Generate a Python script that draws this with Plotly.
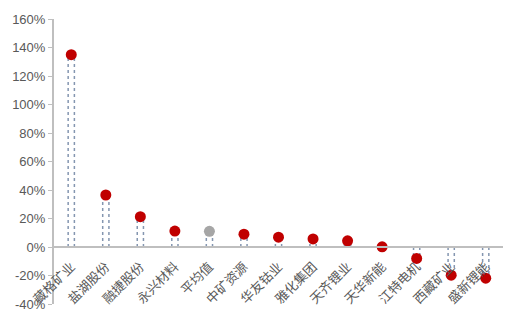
import plotly.graph_objects as go

categories = ["藏格矿业", "盐湖股份", "融捷股份", "永兴材料", "平均值", "中矿资源",
              "华友钴业", "雅化集团", "天齐锂业", "天华新能", "江特电机", "西藏矿业", "盛新锂能"]
values = [135.0, 36.5, 21.3, 11.2, 11.0, 9.0, 6.9, 5.7, 4.3, 0.1, -8.0, -19.8, -21.9]
colors = ["#C00000" if c != "平均值" else "#A6A6A6" for c in categories]
y_ticks = [-40, -20, 0, 20, 40, 60, 80, 100, 120, 140, 160]
y_tick_labels = [f"{t}%" for t in y_ticks]

fig = go.Figure()

# dotted outline "bars": two dotted edges per category
half_w = 0.09
for i, v in enumerate(values):
    for side in (-half_w, half_w):
        fig.add_trace(go.Scatter(
            x=[i + side, i + side], y=[0, v], mode="lines",
            line=dict(color="#8496B0", width=1.5, dash="dot"),
            hoverinfo="skip", showlegend=False))

fig.add_trace(go.Scatter(
    x=list(range(len(categories))), y=values, mode="markers",
    marker=dict(color=colors, size=11, line=dict(width=0)),
    showlegend=False))

fig.update_layout(
    width=515, height=324,
    margin=dict(l=53, r=12, t=16, b=17),
    paper_bgcolor="white", plot_bgcolor="white",
    font=dict(family="Liberation Sans, Arial", size=12, color="#595959"),
    xaxis=dict(
        range=[-0.5, len(categories) - 0.5],
        tickvals=list(range(len(categories))), ticktext=categories,
        tickangle=-45, showgrid=False, zeroline=False,
        showline=True, linecolor="#BFBFBF", linewidth=2,
        ticks="", anchor="free", position=0.2, ticklabelstandoff=6,
        tickfont=dict(family="Noto Sans CJK SC", size=13, color="#595959"),
    ),
    yaxis=dict(
        range=[-40, 160], tickvals=y_ticks, ticktext=y_tick_labels,
        showgrid=False, zeroline=False,
        showline=True, linecolor="#BFBFBF", linewidth=2,
        ticks="outside", ticklen=4, tickcolor="#BFBFBF", tickwidth=1,
        tickfont=dict(family="Liberation Sans, Arial", size=13, color="#595959"),
    ),
)

fig.write_html("out.html")
